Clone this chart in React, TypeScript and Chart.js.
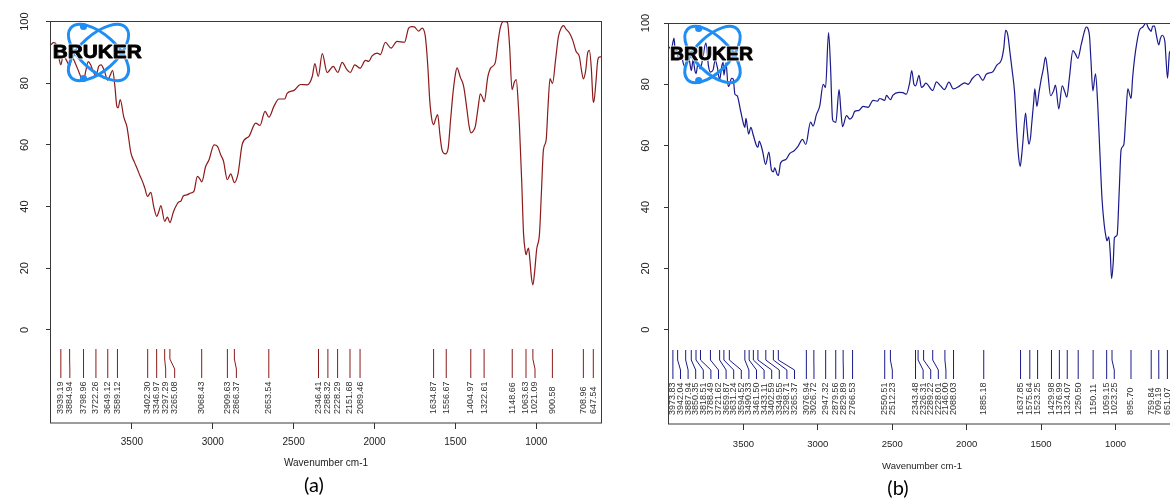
import React, { useEffect, useRef } from "react";
import { Chart, registerables } from "chart.js";

Chart.register(...registerables);
Chart.defaults.font.family = '"Liberation Sans", Arial, sans-serif';

// ---------------- data ----------------
const wavenumbersA = [
  4000, 3985, 3965, 3950, 3939, 3925, 3910, 3895, 3885, 3870,
  3850, 3830, 3815, 3799, 3785, 3770, 3755, 3740, 3722, 3705,
  3690, 3670, 3649, 3635, 3619, 3605, 3593, 3585, 3572, 3550,
  3531, 3506, 3485, 3465, 3450, 3434, 3420, 3403, 3383, 3365,
  3346, 3333, 3321, 3297, 3288, 3280, 3265, 3245, 3229, 3210,
  3198, 3181, 3160, 3136, 3116, 3095, 3080, 3068, 3044, 3023,
  2992, 2971, 2951, 2934, 2910, 2889, 2866, 2844, 2817, 2776,
  2735, 2708, 2677, 2653, 2622, 2591, 2556, 2539, 2498, 2457,
  2416, 2385, 2369, 2348, 2323, 2293, 2255, 2227, 2200, 2173,
  2150, 2122, 2089, 2056, 2036, 2015, 1984, 1964, 1933, 1898,
  1861, 1815, 1789, 1770, 1754, 1727, 1706, 1686, 1670, 1659,
  1645, 1635, 1622, 1610, 1595, 1583, 1562, 1545, 1530, 1515,
  1500, 1490, 1470, 1449, 1430, 1415, 1404, 1390, 1377, 1360,
  1346, 1330, 1322, 1300, 1281, 1254, 1235, 1223, 1205, 1190,
  1178, 1165, 1150, 1135, 1124, 1110, 1104, 1090, 1079, 1068,
  1063, 1055, 1048, 1040, 1030, 1021, 1010, 998, 980, 968,
  956, 939, 928, 915, 900, 880, 863, 845, 832, 815,
  795, 775, 754, 734, 720, 709, 695, 682, 672, 660,
  650, 645, 632, 620, 610, 600,
];
const transmittanceA = [
  92.5, 93.2, 92.5, 88, 86, 89, 88, 86.5, 85.5, 88.5,
  86.5, 84, 82, 80.8, 84, 87, 86, 84, 82.5, 85.5,
  86, 84, 81, 82.5, 84.2, 79, 72.5, 72, 74.7, 69,
  66, 57.4, 54.5, 52, 50, 48.1, 46, 43.3, 44.6, 40,
  36.8, 38.5, 40.3, 35.2, 36, 36.6, 34.8, 38, 40, 41.5,
  41.7, 43.5, 43.8, 44.4, 45, 49.8, 49, 48, 53, 55.2,
  60, 59.5, 56.8, 54.8, 48.7, 50.6, 47.8, 50.6, 60.4, 62.8,
  67.1, 66.3, 70.9, 69, 72.5, 74.9, 74.9, 76.8, 77.7, 79.6,
  79.5, 82.2, 86.4, 82.2, 89.6, 83.5, 85.5, 83.5, 86.8, 84.6,
  83.5, 86, 84.9, 87.4, 87.1, 88.9, 89.8, 89.3, 93.3, 91.4,
  93.6, 93.3, 97.9, 98.4, 98.3, 96.9, 97.9, 95.2, 85, 74.7,
  68, 66.6, 68.5, 69.8, 63, 58.4, 57.1, 58.9, 68, 76.8,
  83, 85, 82, 79, 72, 66, 63.9, 64.5, 66, 72,
  76.6, 75, 74, 82, 85, 86.6, 94, 97.9, 100, 100,
  99.7, 92, 77.9, 80.5, 81.2, 72, 66, 48, 31.4, 25.5,
  24.4, 25.8, 26.5, 23, 17, 14.6, 19, 26, 31.4, 45,
  58.4, 61.6, 72, 81.5, 79.9, 88, 95.2, 98, 98.7, 97.5,
  96.3, 94, 90.3, 88.7, 84, 81.4, 84, 90, 90.7, 85,
  75, 73.8, 80, 87.5, 88.5, 88.6,
];
const peaksA = [
  3939.19, 3884.94, 3798.96, 3722.26, 3649.12, 3589.12, 3402.3, 3346.97, 3297.29, 3265.08,
  3068.43, 2909.63, 2866.37, 2653.54, 2346.41, 2288.32, 2228.29, 2151.68, 2089.46, 1634.87,
  1556.67, 1404.97, 1322.61, 1148.66, 1063.63, 1021.09, 900.58, 708.96, 647.54,
];

const wavenumbersB = [
  4000, 3985, 3966, 3958, 3948, 3935, 3920, 3905, 3890, 3875,
  3862, 3850, 3838, 3826, 3818, 3805, 3790, 3775, 3752, 3735,
  3722, 3703, 3690, 3675, 3660, 3645, 3636, 3631, 3617, 3602,
  3594, 3580, 3568, 3557, 3542, 3519, 3497, 3490, 3483, 3465,
  3450, 3434, 3411, 3402, 3394, 3371, 3351, 3329, 3311, 3298,
  3290, 3273, 3265, 3250, 3215, 3188, 3161, 3132, 3103, 3081,
  3049, 3032, 3009, 2987, 2964, 2948, 2928, 2915, 2901, 2890,
  2879, 2857, 2846, 2834, 2807, 2785, 2767, 2752, 2723, 2696,
  2662, 2629, 2600, 2584, 2550, 2539, 2512, 2495, 2454, 2428,
  2405, 2383, 2369, 2354, 2343, 2320, 2304, 2289, 2275, 2237,
  2228, 2203, 2175, 2150, 2119, 2090, 2047, 2014, 1990, 1962,
  1924, 1891, 1868, 1824, 1797, 1767, 1750, 1738, 1723, 1708,
  1694, 1678, 1663, 1650, 1640, 1630, 1622, 1604, 1595, 1582,
  1570, 1564, 1550, 1542, 1528, 1515, 1499, 1485, 1470, 1455,
  1436, 1415, 1403, 1381, 1358, 1340, 1327, 1310, 1286, 1270,
  1253, 1230, 1210, 1197, 1175, 1165, 1152, 1134, 1119, 1105,
  1090, 1075, 1063, 1057, 1045, 1035, 1026, 1015, 1007, 989,
  975, 962, 944, 930, 917, 895, 885, 872, 855, 839,
  816, 794, 780, 767, 760, 750, 738, 725, 709, 698,
  686, 668, 660, 650, 637, 625, 610, 600,
];
const transmittanceB = [
  92.2, 91.5, 95.1, 90.5, 91.6, 88, 90.5, 87, 85.5, 89,
  87.5, 84.5, 88, 84.5, 83.5, 87, 85, 88, 93.5, 86,
  84, 84.8, 88, 85.5, 81.5, 86, 87.2, 83, 87, 79.3,
  79.8, 82, 81.7, 76.8, 76.3, 71.4, 66.7, 66, 68.9, 63.8,
  66, 63.5, 59.9, 59.5, 61.5, 58.2, 53.9, 57.9, 52, 51.5,
  52.8, 50.6, 50.3, 54.4, 55.5, 57.5, 58.3, 59.9, 62.1, 60.4,
  67.7, 66.4, 70.2, 73, 80, 79, 96.9, 86.3, 68.6, 67.8,
  67.6, 78.3, 72, 66.2, 69.8, 68.7, 69.5, 71.2, 71.5, 72.8,
  72.5, 74.8, 74.5, 75.4, 74.8, 76.4, 75, 76.5, 77.4, 77.3,
  76.8, 80.5, 84.5, 80, 79.5, 82.9, 79, 79.5, 80.4, 78.3,
  78, 80.8, 79.5, 78.3, 80.7, 78.5, 79.5, 80.5, 80, 81.9,
  83.3, 81.3, 83.3, 84.1, 86.3, 87.9, 92, 97.6, 96, 90,
  84.5, 77.4, 64.3, 56, 53.3, 57, 61.3, 70.6, 66, 60.5,
  63, 66.5, 74, 78.5, 72.8, 77, 81.7, 85, 88.9, 84,
  76.3, 78, 79.8, 72, 79.5, 77.5, 75.8, 82, 91, 90,
  88.5, 93, 97, 98.7, 96, 88, 77.9, 83.4, 73.2, 58,
  42.4, 34, 30.1, 29, 30.3, 25, 16.7, 22, 30, 30.9,
  45, 58.7, 60.3, 70, 78.5, 75.4, 82, 88.3, 94, 97.6,
  98.7, 100, 98.5, 97.6, 97.3, 99, 99, 96, 92.9, 95,
  96, 94, 88, 82, 90.4, 91, 90, 89,
];
const peaksB = [
  3973.83, 3942.04, 3887.94, 3850.35, 3818.51, 3788.49, 3721.62, 3659.87, 3631.24, 3594.52,
  3490.33, 3461.5, 3433.11, 3402.59, 3349.55, 3298.71, 3265.37, 3076.94, 3026.72, 2947.32,
  2879.56, 2829.89, 2766.53, 2550.51, 2512.23, 2343.48, 2326.31, 2289.22, 2228.01, 2146.0,
  2088.03, 1885.18, 1637.85, 1575.64, 1523.25, 1429.98, 1376.99, 1324.07, 1250.5, 1150.11,
  1059.15, 1023.25, 895.7, 759.84, 709.19, 651.07,
];

const xTickValues = [3500, 3000, 2500, 2000, 1500, 1000];
const yTickValues = [0, 20, 40, 60, 80, 100];
const xAxisTitle = "Wavenumber cm-1";
const logoText = "BRUKER";

// ---------------- layout / style ----------------
type PanelCfg = {
  wn: number[]; tr: number[]; peaks: number[]; color: string; title: string;
  width: number; padL: number; padR: number; padT: number; yW: number; xH: number;
  yMin: number; yMax: number; yPad: number; xPad: number; xFont: number; xTitlePadB: number;
  titlePadB: number; gap: number;
  logo: { ax: number; ay: number; sx: number; tx: number; tw: number; ty: number };
};

const panelA: PanelCfg = {
  wn: wavenumbersA, tr: transmittanceA, peaks: peaksA, color: "#8B1A1A", title: "(a)",
  width: 610, padL: 27, padR: 9, padT: 21, yW: 24, xH: 51,
  yMin: -30.2, yMax: 100.2, yPad: 11.8, xPad: 7.4, xFont: 10, xTitlePadB: 4.7,
  titlePadB: 5, gap: 9,
  logo: { ax: 47.5, ay: 31.5, sx: 1, tx: 1.7, tw: 89, ty: 32 },
};
const panelB: PanelCfg = {
  wn: wavenumbersB, tr: transmittanceB, peaks: peaksB, color: "#1A1A8B", title: "(b)",
  width: 575, padL: 11, padR: 10, padT: 23, yW: 48, xH: 53,
  yMin: -30.7, yMax: 100, yPad: 9.1, xPad: 8.4, xFont: 9.5, xTitlePadB: 5.4,
  titlePadB: 2, gap: 7.6,
  logo: { ax: 43.5, ay: 31.5, sx: 0.92, tx: 1, tw: 83, ty: 32 },
};

function drawLogo(ctx: CanvasRenderingContext2D, left: number, top: number, lg: PanelCfg["logo"]) {
  const cx = left + lg.ax;
  const cy = top + lg.ay;
  ctx.save();
  ctx.strokeStyle = "#1E8EF5";
  ctx.fillStyle = "#1E8EF5";
  ctx.lineWidth = 3;
  [0.73, -0.73].forEach((ang) => {
    ctx.save();
    ctx.translate(cx, cy);
    ctx.scale(lg.sx, 1);
    ctx.rotate(ang);
    ctx.beginPath();
    ctx.ellipse(0, 0, 37, 18, 0, 0, Math.PI * 2);
    ctx.restore();
    ctx.stroke();
  });
  [-26, 26].forEach((dy) => {
    ctx.beginPath();
    ctx.arc(cx - 15 * lg.sx, cy + dy, 3.6, 0, Math.PI * 2);
    ctx.fill();
  });
  ctx.font = 'bold 18.5px "Liberation Sans", Arial, sans-serif';
  const w = ctx.measureText(logoText).width;
  ctx.translate(left + lg.tx, top + lg.ty);
  ctx.scale(lg.tw / w, 1);
  ctx.textBaseline = "middle";
  ctx.textAlign = "left";
  ctx.lineJoin = "round";
  ctx.strokeStyle = "rgba(255,255,255,0.9)";
  ctx.lineWidth = 2.5;
  ctx.strokeText(logoText, 0, 0);
  ctx.fillStyle = "#000";
  ctx.fillText(logoText, 0, 0);
  ctx.strokeStyle = "#000";
  ctx.lineWidth = 0.8;
  ctx.strokeText(logoText, 0, 0);
  ctx.restore();
}

function makeChart(canvas: HTMLCanvasElement, cfg: PanelCfg) {
  // let the y-axis labels use the whole left margin (Chart.js clips labels to the scale box)
  const widenYPlugin = {
    id: "widenY",
    afterLayout(chart: any) {
      const y = chart.scales.y;
      if (y) y.left = 0;
    },
  };
  const framePlugin = {
    id: "frame",
    afterDatasetsDraw(chart: any) {
      const { ctx, chartArea: a } = chart;
      ctx.save();
      ctx.strokeStyle = "#3a3a3a";
      ctx.lineWidth = 1;
      ctx.strokeRect(Math.round(a.left) - 0.5, Math.round(a.top) + 0.5, Math.round(a.right - a.left) + 1, Math.round(a.bottom - a.top) - 0.5);
      ctx.restore();
    },
  };
  const peaksPlugin = {
    id: "peaks",
    afterDatasetsDraw(chart: any) {
      const { ctx, chartArea: a } = chart;
      const xs = chart.scales.x;
      const items = cfg.peaks
        .map((p) => ({ p, px: xs.getPixelForValue(p), lx: 0 }))
        .sort((u, v) => u.px - v.px);
      let last = -Infinity;
      items.forEach((o) => {
        o.lx = Math.max(o.px, last + cfg.gap);
        last = o.lx;
      });
      const b = a.bottom;
      ctx.save();
      ctx.beginPath();
      ctx.rect(a.left, a.top, a.right - a.left, a.bottom - a.top);
      ctx.clip();
      ctx.strokeStyle = cfg.color;
      ctx.lineWidth = 1;
      items.forEach((o) => {
        ctx.beginPath();
        ctx.moveTo(o.px, b - 74);
        ctx.lineTo(o.px, b - 64);
        ctx.lineTo(o.lx, b - 54);
        ctx.lineTo(o.lx, b - 45);
        ctx.stroke();
      });
      ctx.fillStyle = "#333";
      ctx.font = '9px "Liberation Sans", Arial, sans-serif';
      ctx.textBaseline = "middle";
      ctx.textAlign = "left";
      items.forEach((o) => {
        ctx.save();
        ctx.translate(o.lx, b - 9);
        ctx.rotate(-Math.PI / 2);
        ctx.fillText(o.p.toFixed(2), 0, 0);
        ctx.restore();
      });
      ctx.restore();
    },
  };
  const logoPlugin = {
    id: "logo",
    afterDatasetsDraw(chart: any) {
      const { ctx, chartArea: a } = chart;
      drawLogo(ctx, a.left, a.top, cfg.logo);
    },
  };

  return new Chart(canvas, {
    type: "line",
    data: {
      datasets: [
        {
          data: cfg.wn.map((w, i) => ({ x: w, y: cfg.tr[i] })),
          borderColor: cfg.color,
          borderWidth: 1.2,
          pointRadius: 0,
          fill: false,
          cubicInterpolationMode: "monotone",
        },
      ],
    },
    options: {
      animation: false,
      responsive: false,
      events: [],
      layout: { padding: { left: cfg.padL, right: cfg.padR, top: cfg.padT, bottom: 0 } },
      plugins: {
        legend: { display: false },
        tooltip: { enabled: false },
        title: {
          display: true,
          position: "bottom",
          text: cfg.title,
          color: "#000",
          font: { family: "Lato, 'Open Sans', sans-serif", size: 20, weight: "normal", lineHeight: 1.2 },
          padding: { top: 0, bottom: cfg.titlePadB },
        },
      },
      scales: {
        x: {
          type: "linear",
          reverse: true,
          min: 600,
          max: 4000,
          border: { display: false },
          grid: { drawOnChartArea: false, drawTicks: true, tickLength: 6, color: "#333", lineWidth: 1 },
          ticks: {
            color: "#222",
            font: { size: cfg.xFont },
            padding: cfg.xPad,
            minRotation: 0,
            maxRotation: 0,
            autoSkip: false,
            callback: (v: any) => String(v),
          },
          afterBuildTicks: (s: any) => {
            s.ticks = xTickValues.map((v) => ({ value: v }));
          },
          afterFit: (s: any) => {
            s.height = cfg.xH;
          },
          title: {
            display: true,
            text: xAxisTitle,
            color: "#222",
            font: { size: cfg.xFont },
            padding: { top: 0, bottom: cfg.xTitlePadB },
          },
        },
        y: {
          type: "linear",
          min: cfg.yMin,
          max: cfg.yMax,
          border: { display: false },
          grid: { drawOnChartArea: false, drawTicks: true, tickLength: 5, color: "#333", lineWidth: 1 },
          ticks: {
            color: "#222",
            font: { size: 11 },
            padding: cfg.yPad,
            minRotation: 90,
            maxRotation: 90,
            crossAlign: "center",
            autoSkip: false,
            callback: (v: any) => String(v),
          },
          afterBuildTicks: (s: any) => {
            s.ticks = yTickValues.map((v) => ({ value: v }));
          },
          afterFit: (s: any) => {
            s.width = cfg.yW;
          },
        },
      },
    } as any,
    plugins: [widenYPlugin, framePlugin, peaksPlugin, logoPlugin],
  });
}

function Panel({ cfg, left }: { cfg: PanelCfg; left: number }) {
  const ref = useRef<HTMLCanvasElement | null>(null);
  useEffect(() => {
    if (!ref.current) return;
    const chart = makeChart(ref.current, cfg);
    return () => chart.destroy();
  }, [cfg]);
  return (
    <canvas
      ref={ref}
      width={cfg.width}
      height={503}
      style={{ position: "absolute", left, top: 0, width: cfg.width, height: 503, display: "block" }}
    />
  );
}

export default function App() {
  return (
    <div
      style={{
        position: "fixed",
        left: 0,
        top: 0,
        width: 1170,
        height: 503,
        overflow: "hidden",
        background: "#fff",
      }}
    >
      <Panel cfg={panelA} left={0} />
      <Panel cfg={panelB} left={610} />
    </div>
  );
}
